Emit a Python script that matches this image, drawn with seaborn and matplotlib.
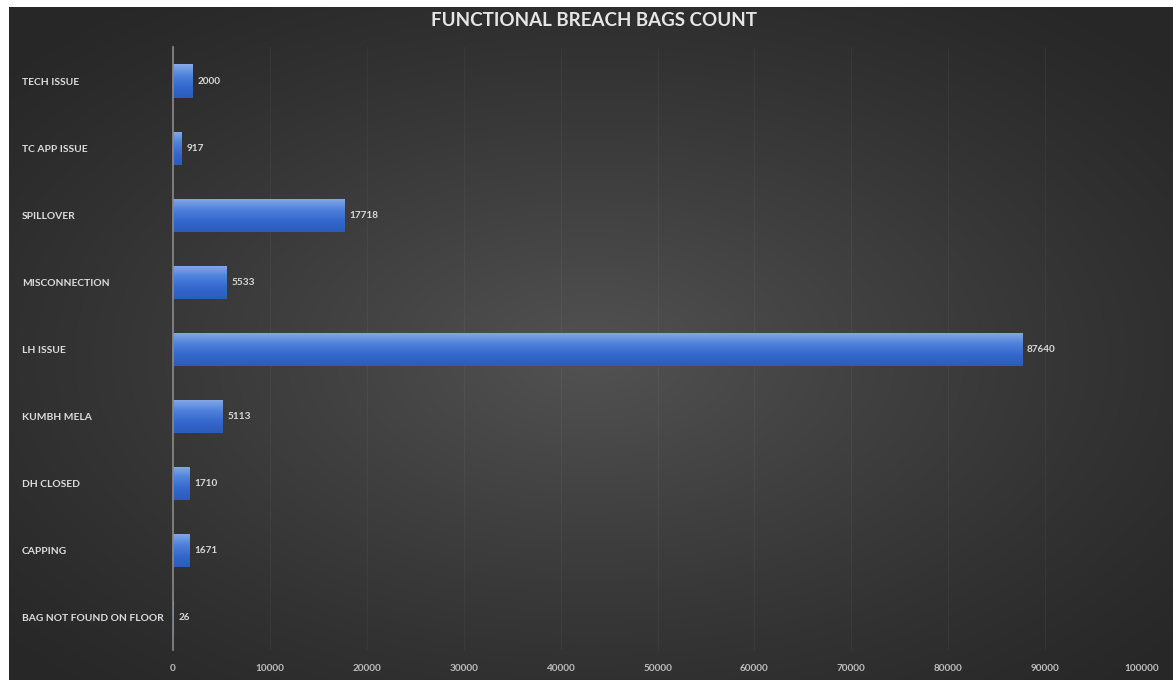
import numpy as np
import pandas as pd
import matplotlib
matplotlib.use("Agg")
import matplotlib.pyplot as plt
import seaborn as sns
from matplotlib.colors import LinearSegmentedColormap

# Breach reasons and their bag counts
categories = ["TECH ISSUE", "TC APP ISSUE", "SPILLOVER", "MISCONNECTION", "LH ISSUE",
              "KUMBH MELA", "DH CLOSED", "CAPPING", "BAG NOT FOUND ON FLOOR"]
counts = [2000, 917, 17718, 5533, 87640, 5113, 1710, 1671, 26]
x_ticks = [0, 10000, 20000, 30000, 40000, 50000, 60000, 70000, 80000, 90000, 100000]

df = pd.DataFrame({"reason": categories, "bags": counts})

sns.set_theme(style="dark")
plt.rcParams["font.family"] = ["Lato", "DejaVu Sans"]

W, H = 1173, 680
fig = plt.figure(figsize=(W / 100, H / 100), dpi=100, facecolor="white")

# Dark panel with a soft radial glow in the middle
bg = fig.add_axes([9 / W, 0, 1 - 9 / W, 1 - 7 / H])
bg.set_axis_off()
yy, xx = np.mgrid[0:1:400j, 0:1:700j]
r = np.sqrt(((xx - 0.5) / 0.68) ** 2 + ((yy - 0.52) / 0.68) ** 2)
glow = np.clip(1 - r, 0, 1) ** 1.2
bg_cmap = LinearSegmentedColormap.from_list("panel", ["#272727", "#525252"])
bg.imshow(glow, cmap=bg_cmap, aspect="auto", extent=[0, 1, 0, 1], vmin=0, vmax=1)
bg.set_xlim(0, 1)
bg.set_ylim(0, 1)

ax = fig.add_axes([173 / W, 30 / H, (1142 - 173) / W, 603 / H])
ax.patch.set_alpha(0)

sns.barplot(data=df, x="bags", y="reason", orient="h", color="#3a6fd0",
            width=0.5, ax=ax, saturation=1)

# Vertical gradient on each bar: lighter top edge, deeper blue below
bar_cmap = LinearSegmentedColormap.from_list(
    "bar", ["#86aae6", "#4f82dc", "#3468cc", "#2c5cbd"])
grad = np.linspace(0, 1, 64).reshape(-1, 1)
for p in ax.patches:
    x0, y0 = p.get_x(), p.get_y()
    w, h = p.get_width(), p.get_height()
    if w <= 0:
        continue
    im = ax.imshow(grad, cmap=bar_cmap, aspect="auto",
                   extent=[x0, x0 + w, y0 + h, y0], zorder=p.get_zorder() + 0.1)
    im.set_clip_path(p)
    p.set_edgecolor("none")

for i, v in enumerate(counts):
    ax.text(v + 500, i, f"{v}", va="center", ha="left", fontsize=7.2,
            color="#d8d8d8", fontweight="bold")

ax.set_xlim(0, 100000)
ax.set_ylim(8.48, -0.51)
ax.set_xticks(x_ticks)
ax.set_xticklabels([str(t) for t in x_ticks], fontsize=7.2, color="#bdbdbd",
                   fontweight="bold")
ax.tick_params(axis="x", length=0, pad=10)
ax.tick_params(axis="y", length=0, pad=108.7)
for lbl in ax.get_yticklabels():
    lbl.set_horizontalalignment("left")
    lbl.set_fontsize(7.4)
    lbl.set_color("#dcdcdc")
    lbl.set_fontweight("bold")

ax.set_xlabel("")
ax.set_ylabel("")
ax.grid(axis="x", color="white", alpha=0.045, linewidth=0.8)
ax.grid(axis="y", visible=False)
for s in ["top", "right", "bottom"]:
    ax.spines[s].set_visible(False)
ax.spines["left"].set_color("#8a8a8a")
ax.spines["left"].set_linewidth(1.2)

fig.text(594 / W, 1 - 20 / H, "FUNCTIONAL BREACH BAGS COUNT", ha="center", va="center",
         fontsize=13.5, fontweight="bold", color="#e6e6e6")

fig.savefig("out.png", dpi=100, facecolor="white")
